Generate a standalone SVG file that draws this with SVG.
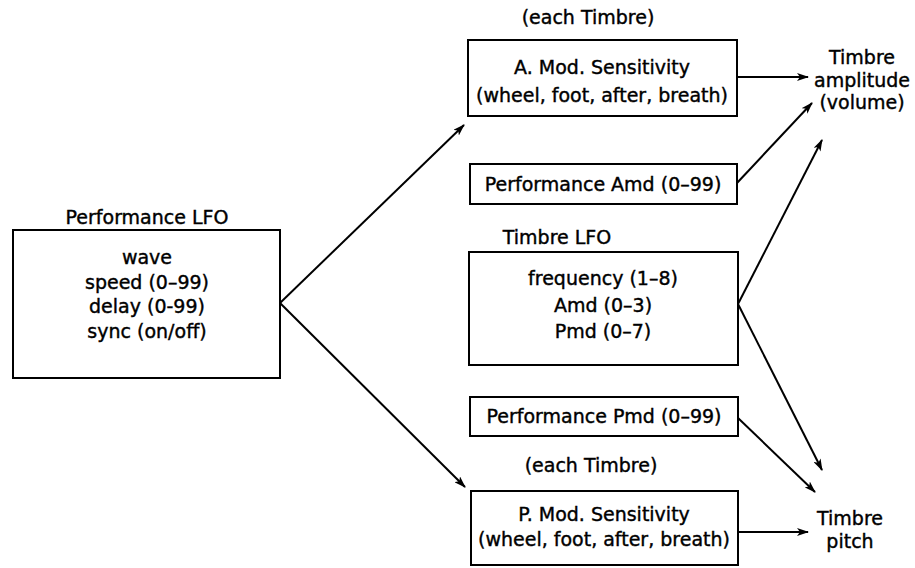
<svg xmlns="http://www.w3.org/2000/svg" width="915" height="568" viewBox="0 0 915 568">
<style>
  text { font-family: "DejaVu Sans", "Liberation Sans", sans-serif; font-size: 19px; fill: #000; stroke: #000; stroke-width: 0.4; text-anchor: middle; }
  .box { fill: #fff; stroke: #000; stroke-width: 2; }
  .conn { stroke: #000; stroke-width: 2; fill: none; marker-end: url(#ah); }
</style>
<defs>
  <marker id="ah" viewBox="0 0 12 8" refX="11" refY="4" markerWidth="12" markerHeight="8" markerUnits="userSpaceOnUse" orient="auto">
    <path d="M0,0 L12,4 L0,8 L3,4 Z" fill="#000"/>
  </marker>
</defs>
<rect width="915" height="568" fill="#fff"/>
<g id="perf-lfo">
  <text x="147" y="224">Performance LFO</text>
  <rect class="box" x="13" y="230" width="267" height="148"/>
  <text x="147" y="264">wave</text>
  <text x="147" y="289">speed (0–99)</text>
  <text x="147" y="313">delay (0-99)</text>
  <text x="147" y="338">sync (on/off)</text>
</g>
<g id="amod">
  <text x="588" y="24">(each Timbre)</text>
  <rect class="box" x="468" y="40" width="269" height="76"/>
  <text x="602" y="74">A. Mod. Sensitivity</text>
  <text x="602" y="102">(wheel, foot, after, breath)</text>
</g>
<g id="perf-amd">
  <rect class="box" x="470" y="164" width="267" height="40"/>
  <text x="603" y="191">Performance Amd (0–99)</text>
</g>
<g id="timbre-lfo">
  <text x="557" y="244">Timbre LFO</text>
  <rect class="box" x="469" y="252" width="269" height="113"/>
  <text x="603" y="285">frequency (1–8)</text>
  <text x="603" y="312">Amd (0–3)</text>
  <text x="603" y="338">Pmd (0–7)</text>
</g>
<g id="perf-pmd">
  <rect class="box" x="470" y="397" width="268" height="39"/>
  <text x="604" y="423">Performance Pmd (0–99)</text>
</g>
<g id="pmod">
  <text x="591" y="472">(each Timbre)</text>
  <rect class="box" x="471" y="491" width="267" height="74"/>
  <text x="604" y="521">P. Mod. Sensitivity</text>
  <text x="604" y="546">(wheel, foot, after, breath)</text>
</g>
<g id="timbre-amp">
  <text x="862" y="64">Timbre</text>
  <text x="862" y="87">amplitude</text>
  <text x="862" y="109">(volume)</text>
</g>
<g id="timbre-pitch">
  <text x="850" y="525">Timbre</text>
  <text x="850" y="548">pitch</text>
</g>
<g id="connectors">
  <path class="conn" d="M280,303 L464,125"/>
  <path class="conn" d="M280,303 L465,487"/>
  <path class="conn" d="M737,77 L808,77"/>
  <path class="conn" d="M737,183 L812,103"/>
  <path class="conn" d="M738,304 L822,140"/>
  <path class="conn" d="M738,304 L822,470"/>
  <path class="conn" d="M738,418 L815,492"/>
  <path class="conn" d="M738,532 L808,532"/>
</g>
</svg>
